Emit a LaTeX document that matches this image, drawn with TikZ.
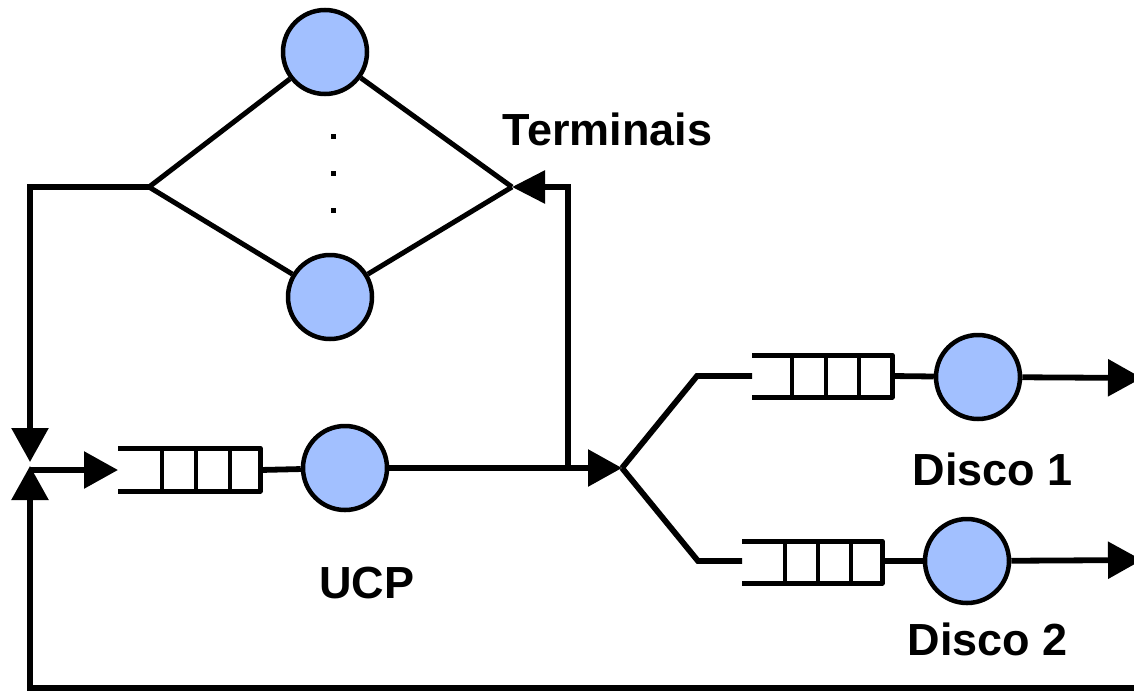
\documentclass[tikz,border=0pt]{standalone}
\usepackage{fontspec}
\setmainfont{Liberation Sans}
\usetikzlibrary{arrows.meta}
\definecolor{srvblue}{RGB}{162,192,255}
\tikzset{
  server/.style={circle, draw, line width=4.5pt, fill=srvblue, minimum size=84pt, inner sep=0pt},
  arr/.style={-{Triangle[length=34pt,width=36pt]}},
  sarr/.style={-{Triangle[length=33pt,width=32pt]}},
  lbl/.style={font=\fontsize{45}{54}\selectfont\bfseries, inner sep=0pt},
  qline/.style={line width=5pt},
  qdiv/.style={line width=4pt}
}
\begin{document}
\begin{tikzpicture}[x=1pt,y=-1pt,line width=5.8pt]
\useasboundingbox (0,0) rectangle (1134,691);
% terminals
\node[server] (t1) at (325,52) {};
\node[server] (t2) at (330,297) {};
\coordinate (tl) at (149,187);
\coordinate (tr) at (512,187);
\draw[line width=5pt] (tl) -- (t1);
\draw[line width=5pt] (tl) -- (t2);
\draw[line width=5pt] (t1) -- (tr);
\draw[line width=5pt] (t2) -- (tr);
\foreach \yy in {136,173,210} \fill (331,\yy-2.5) rectangle ++(5,5);
\node[lbl, anchor=base west] (lterm) at (500,145) {Terminais};
% junction
\coordinate (jtop) at (30,462);
\coordinate (jbot) at (30,466);
\coordinate (jmid) at (30,470);
\coordinate (lcorner) at (30,187);
\draw[arr] (tl) -- (lcorner) -- (jtop);
% UCP queue
\coordinate (qUin) at (118,470);
\coordinate (qUout) at (260,470);
\draw[arr] (jmid) -- (qUin);
\draw[qline, line join=round] (118,448) -| (260,491) -- (118,491);
\foreach \xx in {162,196,230} \draw[qdiv] (\xx,448) -- (\xx,491);
\node[server] (ucp) at (345,468) {};
\draw (qUout) -- (ucp);
\node[lbl, anchor=base] (lucp) at (367,598) {UCP};
% to fork
\coordinate (fork) at (622,468);
\coordinate (br) at (568,468);
\draw[arr] (ucp) -- (fork);
\draw[sarr] (br) |- (tr);
% fork branches
\coordinate (f1) at (697,376);
\coordinate (f2) at (698,561);
\coordinate (q1in) at (752,376);
\coordinate (q2in) at (742,561);
\draw (fork) -- (f1) -- (q1in);
\draw (fork) -- (f2) -- (q2in);
% disk 1 queue
\draw[qline, line join=round] (752,355) -| (892,397) -- (752,397);
\foreach \xx in {792,826,859} \draw[qdiv] (\xx,355) -- (\xx,397);
\coordinate (q1out) at (892,376);
\node[server] (d1) at (978,377) {};
\draw (q1out) -- (d1);
\coordinate (o1) at (1142,378);
\draw[arr] (d1) -- (o1);
\node[lbl, anchor=base west] (ld1) at (910,485) {Disco 1};
% disk 2 queue
\draw[qline, line join=round] (742,541) -| (882,583) -- (742,583);
\foreach \xx in {785,818,851} \draw[qdiv] (\xx,541) -- (\xx,583);
\coordinate (q2out) at (882,561);
\node[server] (d2) at (967,561) {};
\draw (q2out) -- (d2);
\coordinate (o2) at (1142,560);
\draw[arr] (d2) -- (o2);
\node[lbl, anchor=base west] (ld2) at (905,655) {Disco 2};
% bottom feedback loop
\coordinate (bstart) at (1136,688);
\draw[arr] (bstart) -| (jbot);
\end{tikzpicture}
\end{document}
